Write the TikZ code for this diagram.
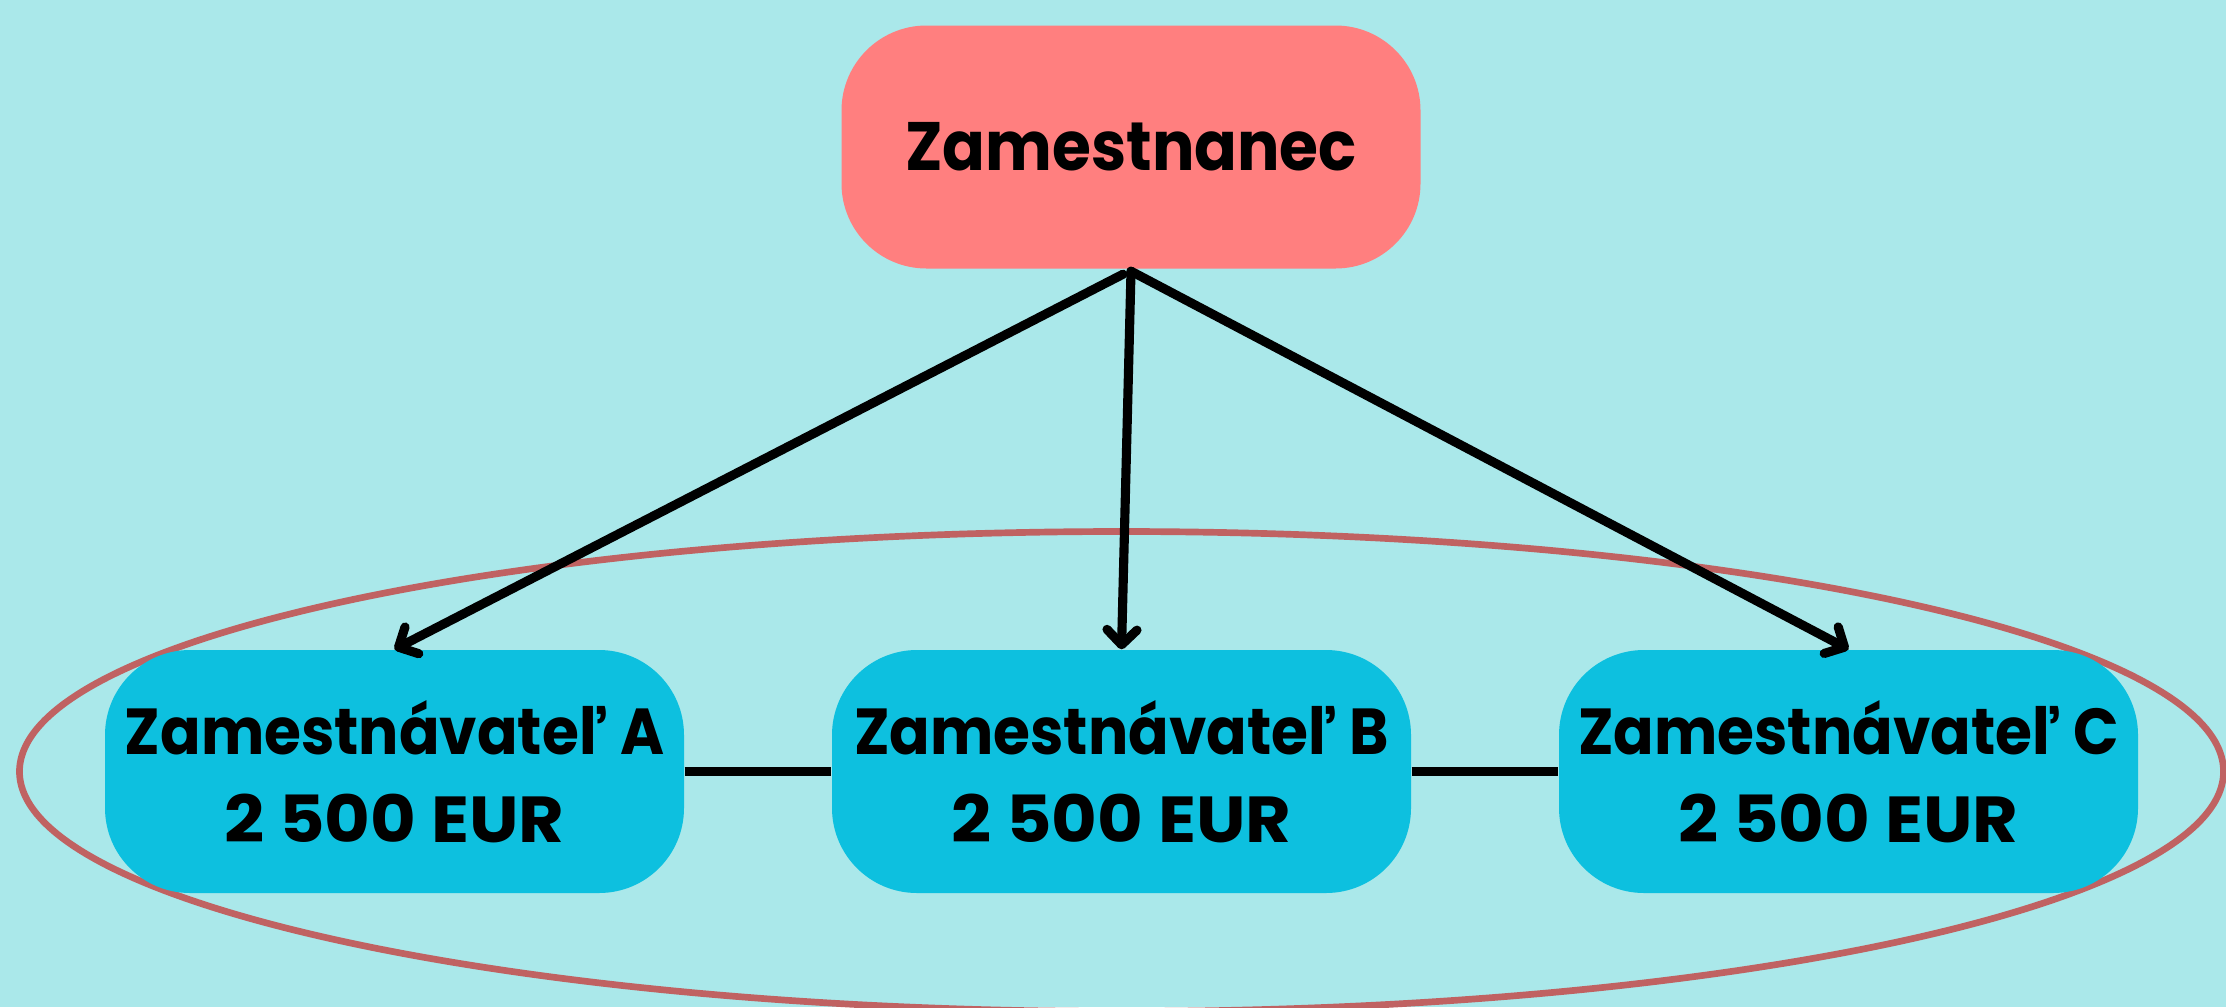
\documentclass[tikz,border=0pt]{standalone}
\usepackage{fontspec}
\setmainfont{Poppins}[BoldFont={Poppins Bold}]
\newfontfamily\namefont{Poppins Bold}[FakeStretch=0.92]
\newfontfamily\numfont{Poppins Bold}[FakeStretch=1.08]
\usetikzlibrary{arrows.meta}
\definecolor{bgcol}{HTML}{AAE8EA}
\definecolor{topcol}{HTML}{FF7F7F}
\definecolor{boxcol}{HTML}{0DC0DF}
\definecolor{ringcol}{HTML}{C06262}
\tikzset{
  topbox/.style={fill=topcol, rounded corners=0.85cm, minimum width=5.79cm, minimum height=2.43cm, inner sep=0pt, font=\namefont\fontsize{19.5}{22}\selectfont, align=center},
  empbox/.style={fill=boxcol, rounded corners=0.85cm, minimum width=5.79cm, minimum height=2.43cm, inner sep=0pt, font=\namefont\fontsize{18.5}{25}\selectfont, align=center},
  arr/.style={line width=2.6pt, line cap=round, -{Straight Barb[length=0.15cm, width=0.3cm, line cap=round, line join=round]}},
  link/.style={line width=2.6pt},
  ring/.style={draw=ringcol, line width=1.9pt}
}
\begin{document}
\begin{tikzpicture}
\useasboundingbox (0,0) rectangle (22.26,-10.07);
\fill[bgcol] (0,0) rectangle (22.26,-10.07);
\begin{scope}
\clip (0,0) rectangle (22.26,-10.07);
\draw[ring] (11.215,-7.715) ellipse [x radius=11.02cm, y radius=2.40cm];
\end{scope}
\node[topbox] (top) at (11.31,-1.47) {Zamestnanec};
\node[empbox] (a) at (3.945,-7.715) {Zamestnávateľ A\\{\numfont 2 500 EUR}};
\node[empbox] (b) at (11.215,-7.715) {Zamestnávateľ B\\{\numfont 2 500 EUR}};
\node[empbox] (c) at (18.485,-7.715) {Zamestnávateľ C\\{\numfont 2 500 EUR}};
\coordinate (sa) at ([xshift=-0.08cm,yshift=-0.05cm]top.south);
\coordinate (sb) at ([yshift=-0.02cm]top.south);
\draw[arr] (sa) -- (a.north);
\draw[arr] (sb) -- (b.north);
\draw[arr] (sb) -- (c.north);
\draw[link] (a.east) -- (b.west);
\draw[link] (b.east) -- (c.west);
\end{tikzpicture}
\end{document}
